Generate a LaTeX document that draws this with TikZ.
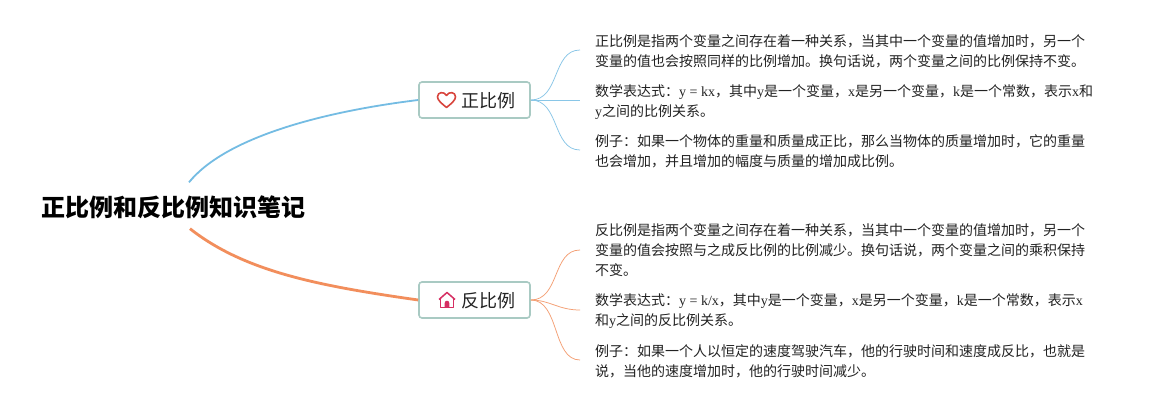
\documentclass[tikz,border=0pt]{standalone}
\usepackage{fontspec}
\setmainfont{Noto Sans CJK SC}
\newfontfamily\latf{Liberation Serif}
\newcommand\La[1]{{\latf #1}}
\definecolor{bluel}{HTML}{74BCE3}
\definecolor{orangel}{HTML}{F28E5C}
\definecolor{boxb}{HTML}{A9CAC3}
\definecolor{ink}{HTML}{222222}
\definecolor{heartc}{HTML}{D8443C}
\definecolor{housec}{HTML}{D62E62}
\tikzset{
  roottext/.style={inner sep=0pt,minimum width=262pt,minimum height=46pt,text height=26pt,text depth=4.8pt,font=\fontsize{24}{28}\selectfont\bfseries,text=black},
  topicbox/.style={draw=boxb,line width=1.6pt,rounded corners=3pt,fill=white,minimum width=111pt,minimum height=36pt,inner sep=0pt,text height=20pt,text depth=4.4pt,font=\fontsize{18}{22}\selectfont,text=ink},
  leaftext/.style={anchor=west,align=left,inner xsep=15pt,inner ysep=0pt,font=\fontsize{14}{20}\selectfont,text=ink},
  branchb/.style={draw=bluel!85,line width=0.75pt},
  brancho/.style={draw=orangel!85,line width=0.75pt},
}
\begin{document}
\begin{tikzpicture}[x=1pt,y=-1pt]
\useasboundingbox (0,0) rectangle (1155,410);
\fill[white] (0,0) rectangle (1155,410);
\node[roottext] (root) at (173,205.5) {正比例和反比例知识笔记};
\node[topicbox] (pos) at (474.5,100) {\hspace{28pt}正比例};
\node[topicbox] (neg) at (474.5,300) {\hspace{28pt}反比例};
\node[leaftext] (p1) at (580,51) {正比例是指两个变量之间存在着一种关系，当其中一个变量的值增加时，另一个\\变量的值也会按照同样的比例增加。换句话说，两个变量之间的比例保持不变。};
\node[leaftext] (p2) at (580,102.5) {数学表达式：\La{y = kx}，其中\La{y}是一个变量，\La{x}是另一个变量，\La{k}是一个常数，表示\La{x}和\\\La{y}之间的比例关系。};
\node[leaftext] (p3) at (580,151.5) {例子：如果一个物体的重量和质量成正比，那么当物体的质量增加时，它的重量\\也会增加，并且增加的幅度与质量的增加成比例。};
\node[leaftext] (n1) at (580,250.5) {反比例是指两个变量之间存在着一种关系，当其中一个变量的值增加时，另一个\\变量的值会按照与之成反比例的比例减少。换句话说，两个变量之间的乘积保持\\不变。};
\node[leaftext] (n2) at (580,311) {数学表达式：\La{y = k/x}，其中\La{y}是一个变量，\La{x}是另一个变量，\La{k}是一个常数，表示\La{x}\\和\La{y}之间的反比例关系。};
\node[leaftext] (n3) at (580,361) {例子：如果一个人以恒定的速度驾驶汽车，他的行驶时间和速度成反比，也就是\\说，当他的速度增加时，他的行驶时间减少。};
% main connectors
\draw[draw=bluel,line width=1.8pt] ([xshift=16pt]root.north) .. controls (225,138) and (320,112) .. (pos.west);
\draw[draw=orangel,line width=2.8pt] ([xshift=17pt]root.south) .. controls (245,272) and (320,286) .. (neg.west);
% branches
\draw[branchb] (pos.east) .. controls (560,100) and (552,50) .. (p1.west |- 0,50);
\draw[branchb] (pos.east) -- (p2.west |- pos.east);
\draw[branchb] (pos.east) .. controls (560,100) and (552,150) .. (p3.west |- 0,150);
\draw[brancho] (neg.east) .. controls (560,300) and (552,250) .. (n1.west |- 0,250);
\draw[brancho] (neg.east) .. controls (550,300) and (558,310) .. (n2.west |- 0,310);
\draw[brancho] (neg.east) .. controls (560,300) and (552,360) .. (n3.west |- 0,360);
% heart icon
\draw[heartc,line width=1.6pt,line join=round] (446.5,107.5) .. controls (441,103) and (437.5,100) .. (437.5,96.8) .. controls (437.5,92) and (444,91) .. (446.5,95.5) .. controls (449,91) and (455.5,92) .. (455.5,96.8) .. controls (455.5,100) and (452,103) .. (446.5,107.5) -- cycle;
% house icon
\draw[housec,line width=1.5pt,line join=round] (439,299.5) -- (447,292.5) -- (455,299.5);
\draw[housec,line width=1.5pt,line join=round] (440.5,298.5) -- (440.5,307.5) -- (453.5,307.5) -- (453.5,298.5);
\fill[housec] (444.7,307.5) -- (444.7,303) arc[start angle=180,end angle=0,radius=2.3pt] -- (449.3,307.5) -- cycle;
\end{tikzpicture}
\end{document}
